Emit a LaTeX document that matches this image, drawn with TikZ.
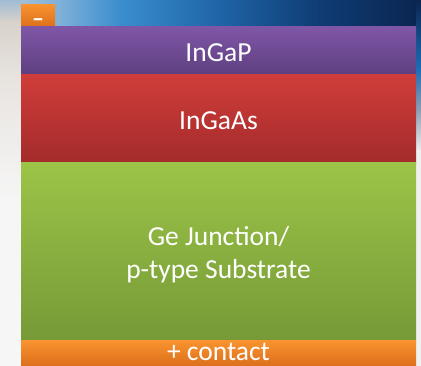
\documentclass[tikz,border=0pt]{standalone}
\usepackage{fontspec}
\setmainfont{Carlito}
\definecolor{purT}{HTML}{7E56A6}
\definecolor{purB}{HTML}{5F3F80}
\definecolor{redT}{HTML}{D03D3A}
\definecolor{redB}{HTML}{A32B2B}
\definecolor{grnT}{HTML}{9CC448}
\definecolor{grnB}{HTML}{759A37}
\definecolor{orgT}{HTML}{F7922E}
\definecolor{orgB}{HTML}{DD6F1C}
\definecolor{sky0}{HTML}{B4C6D4}
\definecolor{sky1}{HTML}{7EB0D8}
\definecolor{sky2}{HTML}{3A8ECE}
\definecolor{sky3}{HTML}{1F64A6}
\definecolor{sky4}{HTML}{0F3C74}
\definecolor{sky5}{HTML}{0A2550}
\begin{document}
\begin{tikzpicture}[x=1pt,y=-1pt,
  layer/.style={inner sep=0pt, outer sep=0pt, anchor=north west},
  lbl/.style={text=white, inner sep=0pt, font=\fontsize{27.5}{33}\selectfont, align=center}]
\useasboundingbox (0,0) rectangle (421,366);
% background
\fill[color=white!95!gray] (0,0) rectangle (421,366);
% top sky strip
\shade[left color=sky0, right color=sky1] (0,0) rectangle (60,28);
\shade[left color=sky1, right color=sky2] (60,0) rectangle (120,28);
\shade[left color=sky2, right color=sky3] (120,0) rectangle (220,28);
\shade[left color=sky3, right color=sky4] (220,0) rectangle (320,28);
\shade[left color=sky4, right color=sky5] (320,0) rectangle (421,28);
% left cloud strip
\shade[top color={rgb,255:red,160;green,188;blue,212}, bottom color={rgb,255:red,216;green,210;blue,202}] (0,0) rectangle (21,22);
\shade[top color={rgb,255:red,216;green,210;blue,202}, bottom color={rgb,255:red,232;green,228;blue,224}] (0,22) rectangle (21,80);
\shade[top color={rgb,255:red,232;green,228;blue,224}, bottom color={rgb,255:red,246;green,246;blue,246}] (0,80) rectangle (21,200);
\fill[color={rgb,255:red,246;green,246;blue,246}] (0,200) rectangle (21,366);
% right strip
\shade[top color=sky5, bottom color={rgb,255:red,30;green,110;blue,185}] (416,0) rectangle (421,70);
\shade[top color={rgb,255:red,30;green,110;blue,185}, bottom color={rgb,255:red,140;green,160;blue,180}] (416,70) rectangle (421,110);
\shade[top color={rgb,255:red,140;green,160;blue,180}, bottom color={rgb,255:red,236;green,236;blue,236}] (416,110) rectangle (421,150);
\fill[color={rgb,255:red,240;green,240;blue,240}] (416,150) rectangle (421,366);
% layers
\node[layer, top color=orgT, bottom color=orgB, minimum width=34pt, minimum height=22pt] (minusbox) at (21,5) {};
\node[layer, top color=purT, bottom color=purB, minimum width=395pt, minimum height=48pt] (ingap) at (21,27) {};
\node[layer, top color=redT, bottom color=redB, minimum width=395pt, minimum height=88pt] (ingaas) at (21,75) {};
\node[layer, top color=grnT, bottom color=grnB, minimum width=395pt, minimum height=178pt] (ge) at (21,163) {};
\node[layer, top color=orgT, bottom color=orgB, minimum width=395pt, minimum height=25pt] (contact) at (21,341) {};
% labels
\node[text=white, inner sep=0pt, font=\fontsize{24}{24}\selectfont\bfseries, anchor=base] (minuslbl) at (38,26.5) {–};
\node[lbl, anchor=base] (ingaplbl) at (218.5,61.5) {InGaP};
\node[lbl, anchor=base] (ingaaslbl) at (218.5,130) {InGaAs};
\node[lbl, anchor=center] (gelbl) at (218.5,255) {Ge Junction/\\p-type Substrate};
\node[lbl, anchor=base] (contactlbl) at (218.5,361) {+ contact};
\end{tikzpicture}
\end{document}
